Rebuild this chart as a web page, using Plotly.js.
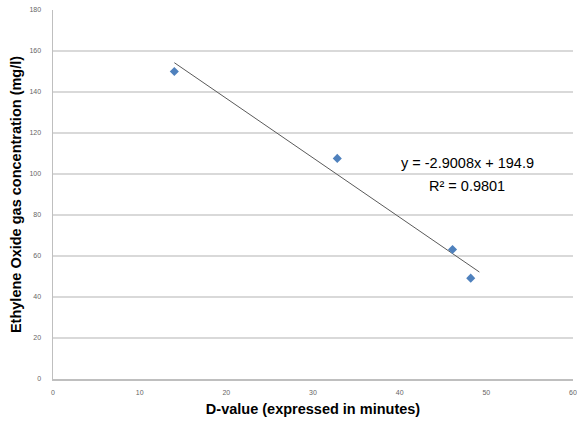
<!DOCTYPE html>
<html><head><meta charset="utf-8">
<script src="https://cdn.plot.ly/plotly-3.0.1.min.js"></script>
<style>html,body{margin:0;padding:0;background:#fff}#chart{width:577px;height:422px}</style>
</head><body><div id="chart"></div>
<script>
const dValues = [14.0, 32.8, 46.1, 48.2];
const concentrations = [150, 107.6, 63.2, 49.2];
const trendSlope = -2.9008;
const trendIntercept = 194.9;
const trendRange = [14.0, 49.2];
const rSquared = 0.9801;
const xTicks = [0, 10, 20, 30, 40, 50, 60];
const yTicks = [0, 20, 40, 60, 80, 100, 120, 140, 160, 180];

const trendY = trendRange.map(x => trendSlope * x + trendIntercept);

const data = [
  {x: trendRange, y: trendY, type: 'scatter', mode: 'lines',
   line: {color: '#5a5a5a', width: 1}, hoverinfo: 'skip'},
  {x: dValues, y: concentrations, type: 'scatter', mode: 'markers',
   marker: {symbol: 'diamond', size: 7, color: '#4F81BD'}}
];

const tickFont = {family: 'Liberation Sans, Arial, sans-serif', size: 7, color: '#666666'};
const titleFont = {family: 'Liberation Sans, Arial, sans-serif', size: 14.5, color: '#000000', weight: 'bold'};
const annFont = {family: 'Liberation Sans, Arial, sans-serif', size: 14.5, color: '#000'};

const layout = {
  width: 577, height: 422,
  margin: {l: 53, r: 4, t: 10, b: 43},
  paper_bgcolor: '#ffffff', plot_bgcolor: '#ffffff',
  showlegend: false,
  xaxis: {
    range: [0, 60], tickvals: xTicks, ticktext: xTicks.map(String),
    showgrid: false, zeroline: false, showline: true, linecolor: '#bfbfbf', linewidth: 1.5,
    ticks: 'outside', ticklen: 6, tickcolor: 'rgba(0,0,0,0)',
    tickfont: tickFont,
    title: {text: '<b>D-value (expressed in minutes)</b>', font: titleFont, standoff: 9},
    automargin: false
  },
  yaxis: {
    range: [0, 180], tickvals: yTicks, ticktext: yTicks.map(String),
    showgrid: true, gridcolor: '#d9d9d9', gridwidth: 1.2,
    zeroline: false, showline: true, linecolor: '#bfbfbf', linewidth: 1.5,
    ticks: 'outside', ticklen: 9, tickcolor: 'rgba(0,0,0,0)',
    tickfont: tickFont,
    title: {text: '<b>Ethylene Oxide gas concentration (mg/l)</b>', font: titleFont, standoff: 4},
    automargin: false
  },
  annotations: [
    {x: 47.8, y: 105.4, xref: 'x', yref: 'y', showarrow: false,
     text: 'y = ' + trendSlope + 'x + ' + trendIntercept, font: annFont},
    {x: 47.8, y: 94.2, xref: 'x', yref: 'y', showarrow: false,
     text: 'R² = ' + rSquared, font: annFont}
  ]
};

Plotly.newPlot('chart', data, layout, {displayModeBar: false, staticPlot: true});
</script>
</body></html>
